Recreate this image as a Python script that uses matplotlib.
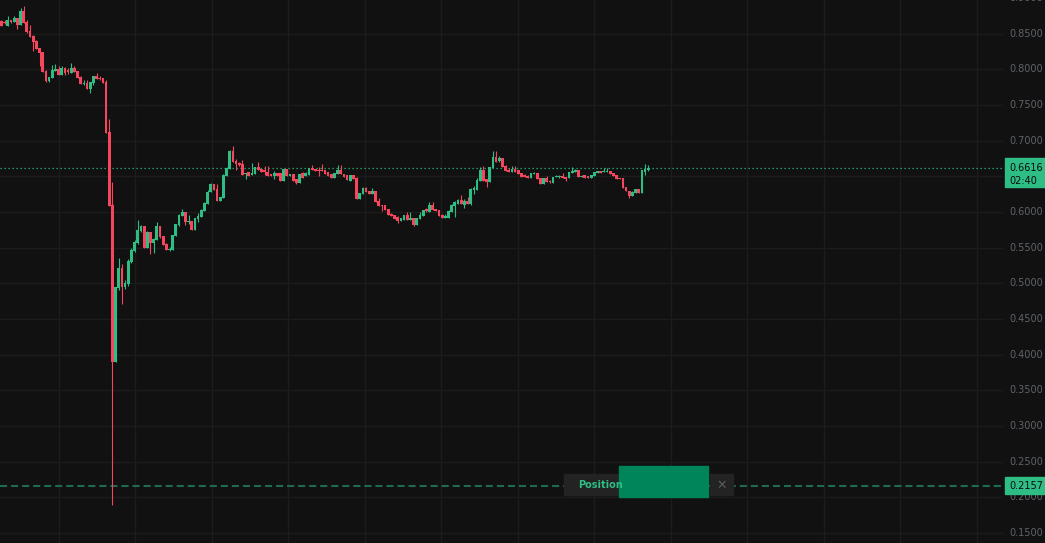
import matplotlib
matplotlib.use("Agg")
import matplotlib.pyplot as plt
from matplotlib.patches import Rectangle
from matplotlib.transforms import blended_transform_factory
import numpy as np

# candle data (one candle per step)
opens = [
    .8678, .8664, .8607, .8692, .8664, .8720, .8621, .8818, .8664, .8537,
    .8467, .8397, .8299, .8243, .7976, .7836, .7878, .7976, .8005, .7920,
    .8019, .7990, .7948, .8019, .7976, .7892, .7794, .7808, .7724, .7808,
    .7906, .7878, .7878, .7822, .7121, .6097, .3896, .4934, .5214, .4948,
    .4990, .5298, .5453, .5565, .5733, .5803, .5495, .5719, .5565, .5607,
    .5803, .5663, .5551, .5467, .5467, .5663, .5817, .5943, .5999, .5859,
    .5873, .5747, .5901, .5929, .6013, .6112, .6280, .6392, .6322, .6154,
    .6196, .6504, .6602, .6855, .6714, .6686, .6672, .6532, .6560, .6518,
    .6532, .6630, .6602, .6588, .6560, .6532, .6504, .6546, .6546, .6434,
    .6602, .6504, .6532, .6462, .6406, .6546, .6504, .6518, .6616, .6602,
    .6588, .6588, .6588, .6560, .6532, .6476, .6532, .6588, .6532, .6518,
    .6434, .6518, .6476, .6182, .6252, .6336, .6294, .6252, .6294, .6154,
    .6097, .6097, .6041, .5971, .5957, .5929, .5873, .5887, .5957, .5887,
    .5915, .5817, .5901, .5943, .6041, .5999, .6097, .6041, .6027, .5957,
    .5915, .5915, .5999, .6083, .6112, .6168, .6097, .6154, .6112, .6308,
    .6308, .6434, .6588, .6462, .6420, .6616, .6771, .6714, .6757, .6644,
    .6588, .6560, .6602, .6588, .6546, .6518, .6504, .6476, .6532, .6546,
    .6476, .6392, .6476, .6434, .6406, .6490, .6490, .6504, .6490, .6476,
    .6546, .6560, .6588, .6490, .6518, .6504, .6476, .6504, .6546, .6574,
    .6560, .6560, .6574, .6546, .6518, .6476, .6476, .6350, .6294, .6224,
    .6266, .6322, .6266, .6560, .6588,
]
highs = [
    .8692, .8692, .8748, .8692, .8748, .8720, .8860, .8888, .8692, .8621,
    .8481, .8411, .8299, .8243, .7990, .7892, .8061, .8075, .8047, .8047,
    .8033, .8019, .8089, .8047, .7976, .7906, .7850, .7850, .7822, .7906,
    .7948, .7906, .7878, .7850, .7303, .6420, .4948, .5354, .5270, .5046,
    .5340, .5495, .5607, .5887, .5817, .5803, .5733, .5719, .5635, .5859,
    .5803, .5663, .5565, .5509, .5677, .5831, .5971, .6041, .5999, .5957,
    .5873, .5915, .5985, .6041, .6140, .6308, .6406, .6392, .6392, .6210,
    .6532, .6630, .6869, .6925, .6743, .6700, .6728, .6546, .6560, .6686,
    .6630, .6700, .6602, .6644, .6644, .6532, .6574, .6546, .6546, .6602,
    .6602, .6532, .6532, .6462, .6532, .6560, .6560, .6616, .6658, .6602,
    .6630, .6672, .6588, .6560, .6532, .6546, .6658, .6658, .6532, .6518,
    .6518, .6518, .6490, .6266, .6350, .6350, .6294, .6336, .6294, .6196,
    .6097, .6097, .6041, .5985, .5957, .5943, .5915, .5957, .5999, .5999,
    .5915, .5915, .5999, .6027, .6055, .6140, .6140, .6041, .6027, .5971,
    .5971, .6027, .6112, .6154, .6182, .6238, .6182, .6210, .6336, .6364,
    .6476, .6630, .6644, .6462, .6630, .6855, .6855, .6785, .6757, .6658,
    .6616, .6644, .6644, .6588, .6546, .6532, .6518, .6546, .6560, .6546,
    .6476, .6476, .6504, .6448, .6490, .6518, .6518, .6546, .6490, .6560,
    .6630, .6602, .6588, .6518, .6518, .6504, .6518, .6560, .6574, .6574,
    .6616, .6616, .6574, .6546, .6518, .6476, .6476, .6350, .6294, .6294,
    .6322, .6322, .6588, .6672, .6658,
]
lows = [
    .8607, .8635, .8607, .8649, .8664, .8565, .8621, .8649, .8509, .8453,
    .8257, .8285, .8047, .7962, .7822, .7822, .7878, .7976, .7920, .7920,
    .7920, .7934, .7948, .7962, .7878, .7794, .7780, .7724, .7668, .7780,
    .7864, .7850, .7808, .7107, .6083, .1891, .3896, .4906, .4709, .4920,
    .4962, .5284, .5439, .5551, .5719, .5495, .5495, .5410, .5425, .5607,
    .5635, .5537, .5467, .5453, .5467, .5663, .5803, .5943, .5817, .5831,
    .5747, .5747, .5859, .5929, .6013, .6112, .6280, .6308, .6154, .6154,
    .6196, .6504, .6602, .6700, .6588, .6644, .6518, .6462, .6504, .6518,
    .6532, .6588, .6560, .6518, .6504, .6504, .6462, .6504, .6434, .6434,
    .6504, .6504, .6434, .6392, .6406, .6476, .6504, .6518, .6588, .6574,
    .6504, .6574, .6532, .6504, .6476, .6476, .6532, .6532, .6490, .6448,
    .6434, .6462, .6182, .6182, .6252, .6280, .6252, .6252, .6140, .6083,
    .6013, .6027, .5957, .5943, .5901, .5845, .5873, .5887, .5887, .5887,
    .5803, .5817, .5901, .5943, .5999, .5999, .6027, .6013, .5943, .5915,
    .5915, .5915, .5999, .5929, .6112, .6112, .6055, .6112, .6097, .6252,
    .6308, .6434, .6434, .6350, .6420, .6616, .6700, .6700, .6630, .6574,
    .6560, .6560, .6560, .6532, .6490, .6490, .6476, .6476, .6532, .6462,
    .6392, .6392, .6420, .6406, .6406, .6490, .6476, .6476, .6434, .6476,
    .6546, .6560, .6490, .6490, .6476, .6476, .6476, .6504, .6546, .6546,
    .6560, .6560, .6532, .6504, .6462, .6462, .6336, .6294, .6196, .6224,
    .6266, .6266, .6266, .6518, .6574,
]
closes = [
    .8607, .8649, .8692, .8664, .8720, .8621, .8818, .8649, .8523, .8453,
    .8383, .8285, .8229, .7962, .7836, .7892, .7990, .8005, .7920, .8019,
    .7948, .7962, .8019, .7962, .7878, .7794, .7808, .7724, .7822, .7906,
    .7864, .7864, .7808, .7107, .6083, .3896, .4948, .5214, .4948, .5004,
    .5312, .5467, .5579, .5747, .5803, .5495, .5719, .5565, .5621, .5803,
    .5649, .5537, .5467, .5481, .5677, .5831, .5957, .5999, .5859, .5873,
    .5747, .5915, .5943, .6027, .6126, .6280, .6392, .6308, .6154, .6210,
    .6518, .6616, .6855, .6700, .6672, .6658, .6518, .6546, .6504, .6546,
    .6630, .6588, .6560, .6560, .6504, .6504, .6546, .6504, .6434, .6602,
    .6504, .6532, .6434, .6406, .6532, .6476, .6546, .6616, .6588, .6574,
    .6574, .6574, .6532, .6504, .6476, .6546, .6588, .6532, .6490, .6448,
    .6518, .6462, .6182, .6266, .6336, .6280, .6252, .6294, .6140, .6083,
    .6083, .6027, .5957, .5943, .5901, .5873, .5915, .5957, .5887, .5915,
    .5817, .5915, .5957, .6027, .6013, .6097, .6027, .6013, .5943, .5915,
    .5943, .6013, .6097, .6140, .6168, .6112, .6154, .6112, .6322, .6336,
    .6448, .6588, .6434, .6420, .6630, .6771, .6700, .6757, .6630, .6574,
    .6560, .6602, .6560, .6532, .6490, .6490, .6476, .6546, .6546, .6462,
    .6392, .6476, .6420, .6420, .6490, .6504, .6504, .6476, .6462, .6560,
    .6574, .6588, .6490, .6504, .6476, .6476, .6518, .6560, .6574, .6546,
    .6574, .6574, .6532, .6504, .6462, .6462, .6336, .6294, .6224, .6280,
    .6322, .6266, .6588, .6602, .6616,
]

last_price = 0.6616
last_label = "0.6616"
countdown = "02:40"
entry_price = 0.2157
entry_label = "0.2157"
grid_prices = [0.15, 0.20, 0.25, 0.30, 0.35, 0.40, 0.45, 0.50,
               0.55, 0.60, 0.65, 0.70, 0.75, 0.80, 0.85, 0.90]
# 0.6500 sits under the last-price tag in the reference
label_prices = [p for p in grid_prices if abs(p - 0.65) > 1e-9]

BG = "#111111"
GRID = "#1c1c1c"
UP = "#2ebd85"
DOWN = "#f6465d"
LABEL = "#5f6368"

W, H = 1045, 543
fig = plt.figure(figsize=(W / 100, H / 100), dpi=100, facecolor=BG)
ax = fig.add_axes([0, 0, 1003 / W, 1])
ax.set_facecolor(BG)
for s in ax.spines.values():
    s.set_visible(False)
ax.set_xticks([])
ax.set_yticks([])

n = len(closes)
x = np.arange(n)
o = np.array(opens)
c = np.array(closes)
hi = np.array(highs)
lo = np.array(lows)
up = c >= o
cols = np.where(up, UP, DOWN)

ax.set_xlim(-0.47, 315.9)
ax.set_ylim(0.1358, 0.8972)

# grid
for t in grid_prices:
    ax.axhline(t, color=GRID, lw=1, zorder=0)
for k in range(14):
    ax.axvline(18.1 + 24.13 * k, color=GRID, lw=1, zorder=0)

# candles
ax.vlines(x, lo, hi, colors=cols, lw=0.8, zorder=2)
body = np.maximum(np.abs(c - o), 0.0012)
ax.bar(x, body, bottom=np.minimum(o, c), width=0.86, color=cols,
       linewidth=0, zorder=3)

# last price and entry lines
ax.axhline(last_price, color=UP, lw=0.9, linestyle=(0, (1, 2.2)), zorder=1)
ax.axhline(entry_price, color="#1f6b50", lw=1.5, linestyle=(0, (3.4, 1.9)),
           zorder=1)

# right price scale
tr = blended_transform_factory(fig.transFigure, ax.transData)
for t in label_prices:
    ax.text(1043 / W, t, f"{t:.4f}", transform=tr, ha="right", va="center",
            color=LABEL, fontsize=7, clip_on=False, zorder=4)

# price tags
ax.add_patch(Rectangle((1005 / W, 0.6350), 40 / W, 0.0407, transform=tr,
                       color=UP, zorder=5, clip_on=False))
ax.text(1043 / W, last_price, last_label, transform=tr, ha="right",
        va="center", color="#0b0b0b", fontsize=7, zorder=6, clip_on=False)
ax.text(1037 / W, 0.6440, countdown, transform=tr, ha="right",
        va="center", color="#0b0b0b", fontsize=7, zorder=6, clip_on=False)
ax.add_patch(Rectangle((1005 / W, 0.2045), 40 / W, 0.0239, transform=tr,
                       color=UP, zorder=5, clip_on=False))
ax.text(1043 / W, entry_price, entry_label, transform=tr, ha="right",
        va="center", color="#0b0b0b", fontsize=7, zorder=6, clip_on=False)


# position widget (pixel boxes)
def px_rect(x0, y0, x1, y1, color):
    fig.patches.append(Rectangle((x0 / W, 1 - y1 / H), (x1 - x0) / W,
                                 (y1 - y0) / H, transform=fig.transFigure,
                                 color=color, zorder=7))


px_rect(564, 474, 619, 495, "#232323")
px_rect(619, 466, 708, 497, "#00845a")
px_rect(710, 474, 733, 495, "#232323")
fig.text(578 / W, 1 - 485 / H, "Position", color=UP, fontsize=7,
         fontweight="bold", va="center", ha="left", zorder=8)
fig.text(722 / W, 1 - 485 / H, "\u2715", color="#5a5a5a", fontsize=9,
         va="center", ha="center", zorder=8)

fig.savefig("out.png", dpi=100, facecolor=BG)
